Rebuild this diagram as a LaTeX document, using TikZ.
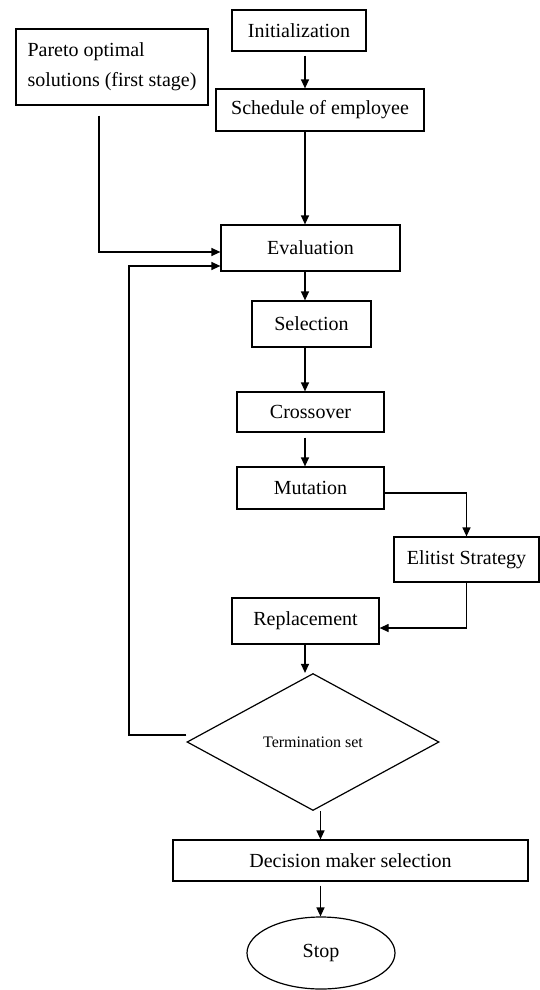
\documentclass[tikz,border=0pt]{standalone}
\usepackage{fontspec}
\setmainfont{Liberation Serif}
\usetikzlibrary{arrows.meta, shapes.geometric}

\begin{document}
\begin{tikzpicture}[x = 1pt, y = -1pt, line width = 1.2pt,
    box/.style = {draw, rectangle, inner sep = 0pt, font = \fontsize{20}{30}\selectfont},
    decide/.style = {draw, diamond, inner sep = 0pt, font = \fontsize{16}{18}\selectfont},
    stopper/.style = {draw, ellipse, inner sep = 0pt, font = \fontsize{20}{30}\selectfont},
    link/.style = {-{Triangle[length = 9pt, width = 8pt]}}]
\useasboundingbox (0, 0) rectangle (540, 990);
\coordinate (mainx) at (305, 0);
\coordinate (lowx) at (320.5, 0);
\coordinate (loopx) at (129, 0);
\coordinate (paretox) at (99, 0);
\node[box, minimum width = 134, minimum height = 41] (init) at (299, 30.5) {Initialization};
\node[box, minimum width = 192, minimum height = 76, align = left] (pareto) at (112, 67) {Pareto optimal\\solutions (first stage)};
\node[box, minimum width = 208, minimum height = 42] (sched) at (320, 110) {Schedule of employee};
\node[box, minimum width = 179, minimum height = 46] (eval) at (310.5, 248) {Evaluation};
\node[box, minimum width = 119, minimum height = 46] (sel) at (311.5, 324) {Selection};
\node[box, minimum width = 147, minimum height = 40] (cross) at (310.5, 412) {Crossover};
\node[box, minimum width = 147, minimum height = 42] (mut) at (310.5, 488) {Mutation};
\node[box, minimum width = 145, minimum height = 45] (elit) at (466.5, 559.5) {Elitist Strategy};
\node[box, minimum width = 147, minimum height = 46] (repl) at (305.5, 621) {Replacement};
\node[decide, minimum width = 252, minimum height = 137] (term) at (313, 742) {Termination set};
\node[box, minimum width = 355, minimum height = 41] (dec) at (350.5, 860.5) {Decision maker selection};
\node[stopper, minimum width = 148, minimum height = 72] (stop) at (321, 953) {Stop};
\coordinate (evalin1) at ([yshift = -4pt]eval.west);
\coordinate (evalin2) at ([yshift = -18pt]eval.west);
\draw[link, shorten <= 4pt] (init.south -| mainx) -- (sched.north -| mainx);
\draw[link] (sched.south -| mainx) -- (eval.north -| mainx);
\draw[link] (eval.south -| mainx) -- (sel.north -| mainx);
\draw[link] (sel.south -| mainx) -- (cross.north -| mainx);
\draw[link, shorten <= 5pt] (cross.south -| mainx) -- (mut.north -| mainx);
\draw[link] ([yshift = -5pt]mut.east) -| (elit.north);
\draw[link] (elit.south) |- ([yshift = -7pt]repl.east);
\draw[link] (repl.south -| mainx) -- (term.north -| mainx);
\draw[link] (term.south -| lowx) -- (dec.north -| lowx);
\draw[link, shorten <= 4pt] (dec.south -| lowx) -- (stop.north -| lowx);
\draw[link, shorten <= 10pt] (pareto.south -| paretox) |- (evalin1);
\draw[link] ([yshift = 7pt]term.west) -| (loopx |- evalin2) -- (evalin2);
\end{tikzpicture}
\end{document}
